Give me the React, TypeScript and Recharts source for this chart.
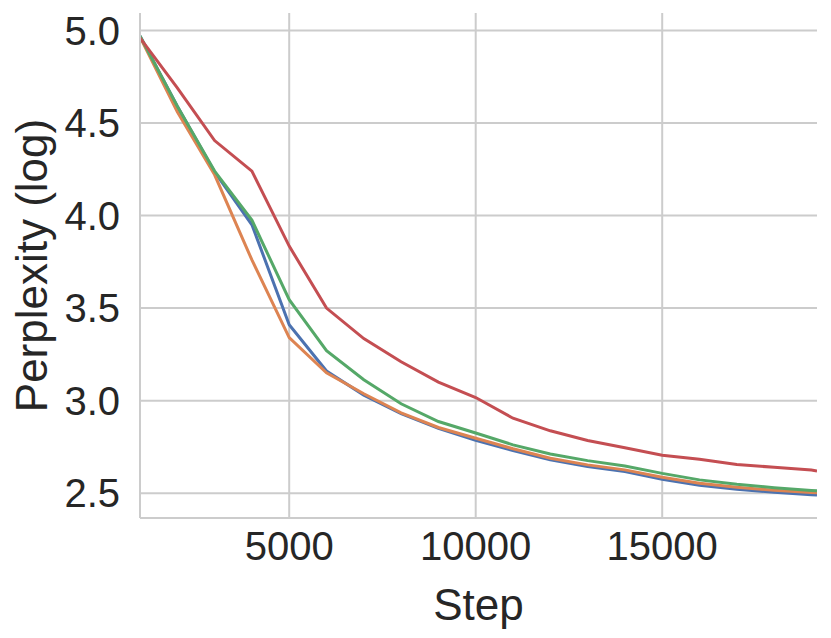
import React from 'react';
import { LineChart, Line, XAxis, YAxis, CartesianGrid } from 'recharts';

const steps = [1000, 2000, 3000, 4000, 5000, 6000, 7000, 8000, 9000, 10000, 11000, 12000, 13000, 14000, 15000, 16000, 17000, 18000, 19000, 19150];
const blueSeries = [4.97, 4.59, 4.235, 3.95, 3.41, 3.16, 3.03, 2.93, 2.85, 2.785, 2.73, 2.68, 2.644, 2.617, 2.575, 2.543, 2.521, 2.505, 2.492, 2.49];
const orangeSeries = [4.965, 4.56, 4.22, 3.76, 3.34, 3.15, 3.037, 2.934, 2.855, 2.797, 2.74, 2.689, 2.653, 2.626, 2.586, 2.554, 2.532, 2.516, 2.504, 2.503];
const greenSeries = [4.97, 4.59, 4.24, 3.975, 3.545, 3.27, 3.113, 2.983, 2.887, 2.825, 2.761, 2.712, 2.676, 2.647, 2.607, 2.572, 2.548, 2.53, 2.515, 2.513];
const redSeries = [4.96, 4.69, 4.405, 4.24, 3.835, 3.5, 3.335, 3.21, 3.1, 3.017, 2.905, 2.837, 2.785, 2.745, 2.705, 2.683, 2.655, 2.64, 2.625, 2.62];
const xTicks = [5000, 10000, 15000];
const yTicks = [2.5, 3.0, 3.5, 4.0, 4.5, 5.0];
const xLabel = 'Step';
const yLabel = 'Perplexity (log)';

const data = steps.map((s, i) => ({
  step: s,
  blue: blueSeries[i],
  orange: orangeSeries[i],
  green: greenSeries[i],
  red: redSeries[i],
}));

const FONT = '"Liberation Sans", Arial, sans-serif';
const TEXT = '#262626';
const GRID = '#cccccc';

const YLabel = (props: any) => {
  const vb = props.viewBox || {};
  const cy = vb.y + vb.height / 2;
  const x = 46.7;
  return (
    <text x={x} y={cy} transform={`rotate(-90, ${x}, ${cy})`} textAnchor="middle" fill={TEXT} fontSize={44} fontFamily={FONT}>
      {yLabel}
    </text>
  );
};

const XLabel = (props: any) => {
  const vb = props.viewBox || {};
  const cx = vb.x + vb.width / 2;
  return (
    <text x={cx} y={620} textAnchor="middle" fill={TEXT} fontSize={44} fontFamily={FONT}>
      {xLabel}
    </text>
  );
};

export default function App() {
  return (
    <div style={{ position: 'absolute', left: 0, top: 0, background: '#fff' }}>
      <LineChart width={831} height={638} data={data} margin={{ top: 13, right: 14, bottom: 0, left: 0 }}>
        <CartesianGrid stroke={GRID} strokeWidth={2} horizontalValues={yTicks} verticalValues={xTicks} />
        <XAxis
          dataKey="step"
          type="number"
          domain={[1000, 19150]}
          ticks={xTicks}
          height={120}
          tickSize={0}
          tickMargin={14}
          axisLine={{ stroke: GRID, strokeWidth: 2 }}
          tick={{ fill: TEXT, fontSize: 40, fontFamily: FONT }}
          allowDataOverflow
          label={<XLabel />}
        />
        <XAxis
          xAxisId="top"
          dataKey="step"
          type="number"
          domain={[1000, 19150]}
          orientation="top"
          height={0}
          tick={false}
          tickLine={false}
          axisLine={{ stroke: GRID, strokeWidth: 2 }}
          allowDataOverflow
        />
        <YAxis
          type="number"
          domain={[2.366, 5.094]}
          ticks={yTicks}
          width={140}
          tickSize={0}
          tickMargin={20}
          axisLine={{ stroke: GRID, strokeWidth: 2 }}
          tick={{ fill: TEXT, fontSize: 40, fontFamily: FONT }}
          tickFormatter={(v: number) => v.toFixed(1)}
          allowDataOverflow
          label={<YLabel />}
        />
        <YAxis
          yAxisId="right"
          type="number"
          domain={[2.366, 5.094]}
          orientation="right"
          width={0}
          tick={false}
          tickLine={false}
          axisLine={{ stroke: GRID, strokeWidth: 2 }}
          allowDataOverflow
        />
        <Line dataKey="blue" stroke="#4C72B0" strokeWidth={3} dot={false} isAnimationActive={false} />
        <Line dataKey="orange" stroke="#DD8452" strokeWidth={3} dot={false} isAnimationActive={false} />
        <Line dataKey="green" stroke="#55A868" strokeWidth={3} dot={false} isAnimationActive={false} />
        <Line dataKey="red" stroke="#C44E52" strokeWidth={3} dot={false} isAnimationActive={false} />
      </LineChart>
    </div>
  );
}
